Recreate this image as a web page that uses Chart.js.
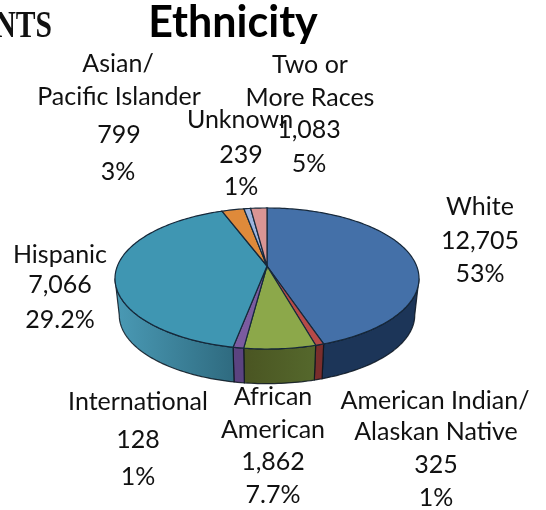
<!DOCTYPE html>
<html>
<head>
<meta charset="utf-8">
<title>Ethnicity</title>
<style>
html, body { margin: 0; background: #fff; overflow: hidden; }
canvas { display: block; }
</style>
<script src="https://cdn.jsdelivr.net/npm/chart.js@4/dist/chart.umd.js"></script>
</head>
<body>
<canvas id="chart" width="546" height="510"></canvas>
<script>
var categories = ['White', 'American Indian/\nAlaskan Native', 'African\nAmerican', 'International',
    'Hispanic', 'Asian/\nPacific Islander', 'Unknown', 'Two or\nMore Races'];
var counts = [12705, 325, 1862, 128, 7066, 799, 239, 1083];
var printedPercents = ['53%', '1%', '7.7%', '1%', '29.2%', '3%', '1%', '5%'];
// the slices in the picture are not drawn to the printed numbers, so these are read off the pie itself
var sliceShares = [44.9, 0.75, 6.4, 0.95, 41.3, 2.8, 0.85, 2.05];

var topColors = ['#4470a8', '#b64a48', '#8ca84a', '#7b5ba0', '#3f96b2', '#df8a3a', '#9db4de', '#da9594'];
var sideColors = [['#1c3558', '#1c3558'], ['#7a2e2c', '#7a2e2c'], ['#55682c', '#4a5522'], ['#5b4380', '#5b4380'],
    ['#2f6b80', '#4a9ab5'], ['#a0602a', '#a0602a'], ['#7080a0', '#7080a0'], ['#a07070', '#a07070']];

// one [x, y] per printed line, same order as categories
var labelSpots = [
    [[480, 207], [480, 241], [480, 274]],
    [[435, 401], [436, 432], [436, 465], [436, 498]],
    [[273, 397], [273, 430], [273, 462], [273, 495]],
    [[138, 402], [138, 440], [138, 477]],
    [[60, 255], [60, 285], [60, 320]],
    [[118, 64], [119, 97], [119, 135], [118, 172]],
    [[240, 120], [241, 155], [241, 187]],
    [[310, 65], [310, 98], [309, 130], [309, 164]]
];

// tilted view of the pie: a flat circle seen in perspective
var view = { x: 267, y: 266, k: 149.6, a: 68.3, c: -0.177, depth: 37, shrink: 0.972 };

function project(angle, low) {
    var u = Math.cos(angle), v = Math.sin(angle);
    var w = 1 + view.c * v;
    var px = view.k * u / w, py = view.a * v / w;
    if (low) {
        return [view.x + px * view.shrink, view.y + py * view.shrink + view.depth];
    }
    return [view.x + px, view.y + py];
}

class Arc3D extends Chart.ArcElement {
    static id = 'arc3d';

    drawSide(ctx, colors) {
        // only the rim facing the viewer shows
        var from = Math.max(this.startAngle, 0.178);
        var to = Math.min(this.endAngle, Math.PI - 0.178);
        if (to <= from) return;
        var steps = Math.ceil((to - from) / 0.02);
        var i, p;
        ctx.beginPath();
        for (i = 0; i <= steps; i++) {
            p = project(from + (to - from) * i / steps, false);
            if (i == 0) ctx.moveTo(p[0], p[1]); else ctx.lineTo(p[0], p[1]);
        }
        for (i = steps; i >= 0; i--) {
            p = project(from + (to - from) * i / steps, true);
            ctx.lineTo(p[0], p[1]);
        }
        ctx.closePath();
        var left = project(to, false)[0], right = project(from, false)[0];
        var grad = ctx.createLinearGradient(left, 0, right, 0);
        grad.addColorStop(0, colors[1]);
        grad.addColorStop(1, colors[0]);
        ctx.fillStyle = grad;
        ctx.fill();
        ctx.strokeStyle = 'rgba(10,20,30,0.85)';
        ctx.lineWidth = 1.2;
        ctx.stroke();
    }

    draw(ctx) {
        var steps = Math.max(2, Math.ceil((this.endAngle - this.startAngle) / 0.02));
        ctx.save();
        ctx.beginPath();
        ctx.moveTo(view.x, view.y);
        for (var i = 0; i <= steps; i++) {
            var p = project(this.startAngle + (this.endAngle - this.startAngle) * i / steps, false);
            ctx.lineTo(p[0], p[1]);
        }
        ctx.closePath();
        ctx.fillStyle = this.options.backgroundColor;
        ctx.fill();
        ctx.strokeStyle = this.options.borderColor;
        ctx.lineWidth = this.options.borderWidth;
        ctx.stroke();
        ctx.restore();
    }
}

class Pie3D extends Chart.PieController {
    static id = 'pie3d';
    static defaults = { dataElementType: 'arc3d' };

    draw() {
        var ctx = this.chart.ctx;
        this._cachedMeta.data.forEach(function(arc, i) {
            arc.drawSide(ctx, sideColors[i]);
        });
        super.draw();
    }
}

Chart.register(Arc3D, Pie3D);

var textLabels = {
    id: 'textLabels',
    afterDraw: function(chart) {
        var ctx = chart.ctx;
        ctx.save();
        ctx.textAlign = 'center';
        ctx.textBaseline = 'middle';
        ctx.fillStyle = '#111';
        ctx.font = '25px Lato, sans-serif';
        categories.forEach(function(name, i) {
            var lines = name.split('\n');
            lines.push(counts[i].toLocaleString('en-US'));
            lines.push(printedPercents[i]);
            lines.forEach(function(line, j) {
                ctx.fillText(line, labelSpots[i][j][0], labelSpots[i][j][1]);
            });
        });
        // tail of a neighbouring heading, cut off by the left edge in the picture
        ctx.textAlign = 'right';
        ctx.textBaseline = 'alphabetic';
        ctx.font = 'bold 37px "Liberation Serif", serif';
        ctx.translate(52, 37);
        ctx.scale(0.8, 1);
        ctx.fillText('NTS', 0, 0);
        ctx.restore();
    }
};

new Chart(document.getElementById('chart'), {
    type: 'pie3d',
    data: {
        labels: categories,
        datasets: [{
            data: sliceShares,
            backgroundColor: topColors,
            borderColor: '#16283a',
            borderWidth: 1.2,
            clip: false
        }]
    },
    options: {
        responsive: false,
        animation: false,
        layout: { padding: { right: 80, top: 0 } },
        plugins: {
            legend: { display: false },
            tooltip: { enabled: false },
            title: {
                display: true,
                text: 'Ethnicity',
                fullSize: false,
                color: '#000',
                font: { family: 'Lato, sans-serif', size: 43, weight: 'bold', lineHeight: 1 },
                padding: { top: 2, bottom: 0 }
            }
        }
    },
    plugins: [textLabels]
});
</script>
</body>
</html>
